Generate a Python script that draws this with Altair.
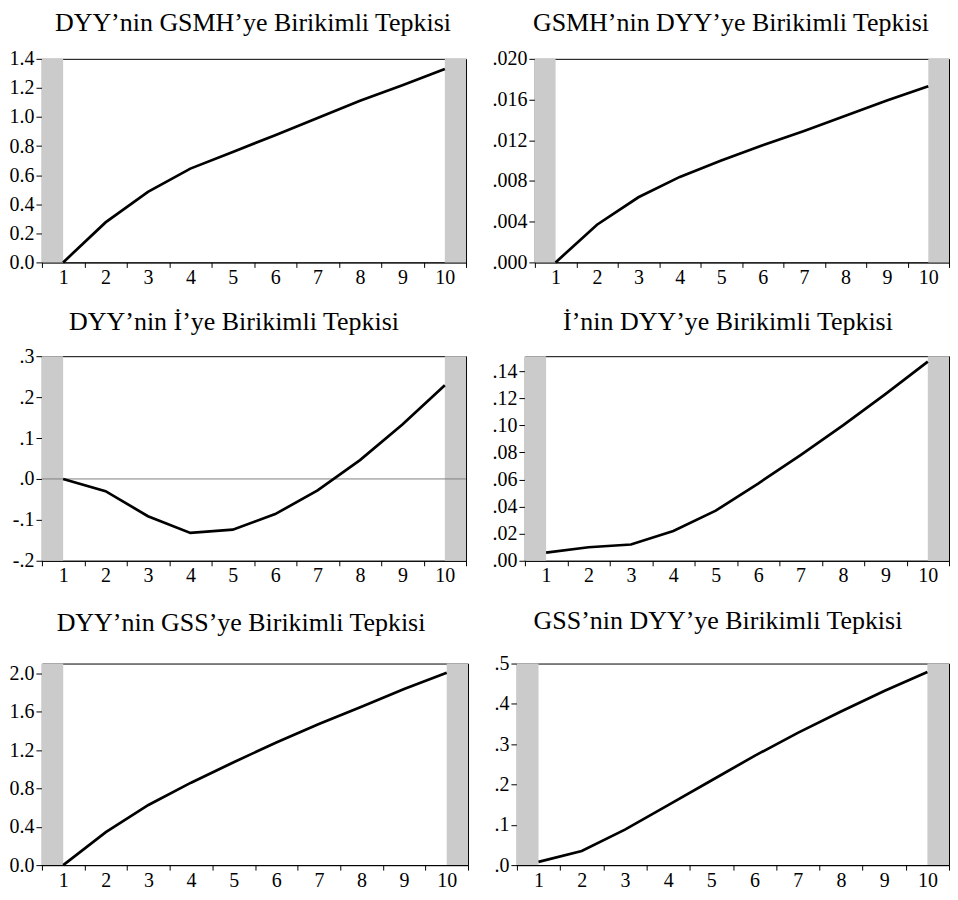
import altair as alt
import pandas as pd

# ---- data ----
periods = [1, 2, 3, 4, 5, 6, 7, 8, 9, 10]

titles = [
    "DYY’nin GSMH’ye Birikimli Tepkisi",
    "GSMH’nin DYY’ye Birikimli Tepkisi",
    "DYY’nin İ’ye Birikimli Tepkisi",
    "İ’nin DYY’ye Birikimli Tepkisi",
    "DYY’nin GSS’ye Birikimli Tepkisi",
    "GSS’nin DYY’ye Birikimli Tepkisi",
]

dyy_gsmh = [0.0, 0.275, 0.485, 0.645, 0.760, 0.875, 0.993, 1.112, 1.218, 1.330]
gsmh_dyy = [0.0, 0.0037, 0.0064, 0.0084, 0.0100, 0.0115, 0.0129, 0.0144, 0.0159, 0.0173]
dyy_i = [0.0, -0.030, -0.091, -0.132, -0.124, -0.086, -0.028, 0.046, 0.133, 0.229]
i_dyy = [0.006, 0.010, 0.012, 0.022, 0.037, 0.057, 0.078, 0.100, 0.123, 0.147]
dyy_gss = [0.0, 0.345, 0.628, 0.861, 1.075, 1.280, 1.473, 1.655, 1.840, 2.010]
gss_dyy = [0.008, 0.035, 0.088, 0.149, 0.210, 0.271, 0.328, 0.381, 0.432, 0.479]

series = [dyy_gsmh, gsmh_dyy, dyy_i, i_dyy, dyy_gss, gss_dyy]

y_domains = [[0, 1.4], [0, 0.02], [-0.2, 0.3], [0, 0.151], [0, 2.105], [0, 0.5]]
y_ticks = [
    [0.0, 0.2, 0.4, 0.6, 0.8, 1.0, 1.2, 1.4],
    [0.0, 0.004, 0.008, 0.012, 0.016, 0.020],
    [-0.2, -0.1, 0.0, 0.1, 0.2, 0.3],
    [0.0, 0.02, 0.04, 0.06, 0.08, 0.10, 0.12, 0.14],
    [0.0, 0.4, 0.8, 1.2, 1.6, 2.0],
    [0.0, 0.1, 0.2, 0.3, 0.4, 0.5],
]
y_formats = [".1f", ".3f", ".1f", ".2f", ".1f", ".1f"]
strip_zero = [False, True, True, True, False, True]
zero_line = [False, False, True, False, False, False]

x_tick_positions = [0.5, 1.5, 2.5, 3.5, 4.5, 5.5, 6.5, 7.5, 8.5, 9.5, 10.5]
shade_start = [0.5, 10.0]
shade_end = [1.0, 10.5]

# ---- layout ----
widths = [425, 415, 425, 425, 427, 433]
heights = [204, 204, 205, 205, 202, 202]
title_offsets = [13, 13, 11, 21, 28, 20]
title_dx = [-1, -11, -20, -9, -14, -15]
y_min_extent = [33, 43, 33, 33, 33, 23]

FONT = "Liberation Serif"


def make_panel(i):
    w, h = widths[i], heights[i]
    df = pd.DataFrame({"period": periods, "value": series[i]})
    bands = pd.DataFrame({"start": shade_start, "end": shade_end})
    xscale = alt.Scale(domain=[0.5, 10.5], nice=False, zero=False)
    yscale = alt.Scale(domain=y_domains[i], nice=False, zero=False)

    xaxis = alt.Axis(
        values=x_tick_positions,
        labelExpr="datum.value < 10 ? format(datum.value + 0.5, 'd') : ''",
        labelOffset={"condition": {"test": "datum.value < 10", "value": w / 20.0}, "value": 0},
        tickSize=5,
        labelPadding=0,
        labelFlush=False,
        labelOverlap=False,
        title=None,
        grid=False,
    )
    fmt = y_formats[i]
    if strip_zero[i]:
        lexpr = f"replace(replace(format(datum.value, '{fmt}'), '\u2212', '-'), '0.', '.')"
    else:
        lexpr = f"format(datum.value, '{fmt}')"
    yaxis = alt.Axis(
        values=y_ticks[i],
        labelExpr=lexpr,
        tickSize=6,
        labelPadding=2,
        labelFlush=False,
        labelOverlap=False,
        minExtent=y_min_extent[i],
        title=None,
        grid=False,
    )

    band_layer = alt.Chart(bands).mark_rect(color="#cbcbcb").encode(
        x=alt.X("start:Q", scale=xscale, axis=xaxis),
        x2="end:Q",
    )
    layers = [band_layer]
    if zero_line[i]:
        zdf = pd.DataFrame({"zero": [0.0]})
        layers.append(
            alt.Chart(zdf).mark_rule(color="#808080", strokeWidth=1).encode(
                y=alt.Y("zero:Q", scale=yscale, axis=yaxis)
            )
        )
    line_layer = alt.Chart(df).mark_line(color="black", strokeWidth=2.7).encode(
        x=alt.X("period:Q", scale=xscale, axis=xaxis),
        y=alt.Y("value:Q", scale=yscale, axis=yaxis),
    )
    layers.append(line_layer)

    return alt.layer(*layers).properties(
        width=w,
        height=h,
        title=alt.TitleParams(
            text=titles[i],
            font=FONT,
            fontSize=26,
            fontWeight="normal",
            color="black",
            anchor="middle",
            frame="group",
            offset=title_offsets[i],
            dx=title_dx[i],
        ),
    )


panels = [make_panel(i) for i in range(6)]

chart = alt.vconcat(
    alt.hconcat(panels[0], panels[1], spacing=24),
    alt.hconcat(panels[2], panels[3], spacing=24),
    alt.hconcat(panels[4], panels[5], spacing=24),
    spacing=20,
).properties(
    padding=0,
    background="white",
).configure_view(
    stroke="black", strokeWidth=1
).configure_axis(
    labelFont=FONT,
    labelFontSize=20,
    labelColor="black",
    domainColor="black",
    tickColor="black",
    domainWidth=1,
    tickWidth=1,
)

chart.save("out.html", embed_options={"renderer": "svg", "actions": False})
